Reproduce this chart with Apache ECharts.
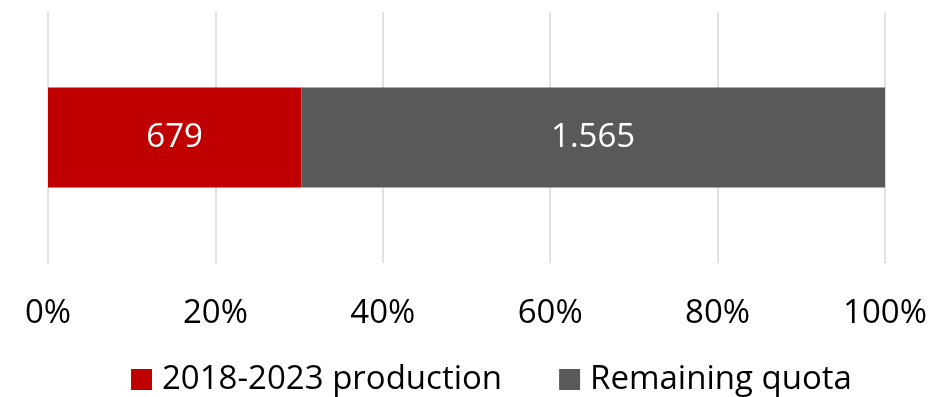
<!DOCTYPE html>
<html><head><meta charset="utf-8">
<script src="https://cdn.jsdelivr.net/npm/echarts@6/dist/echarts.min.js"></script>
<style>html,body{margin:0;padding:0;background:#fff}#c{width:930px;height:397px}</style>
</head><body><div id="c"></div>
<script>
const categories = [''];
const seriesNames = ['2018-2023 production', 'Remaining quota'];
const production = [679];
const remaining = [1565];
const tickLabels = ['0%', '20%', '40%', '60%', '80%', '100%'];

const totals = production.map((v, i) => v + remaining[i]);
const share = arr => arr.map((v, i) => ({ value: v / totals[i] * 100, raw: v }));
const fmt = n => String(n).replace(/\B(?=(\d{3})+(?!\d))/g, '.');
const FONT = 'Open Sans';

const chart = echarts.init(document.getElementById('c'));
chart.setOption({
  animation: false,
  textStyle: { fontFamily: FONT },
  grid: { left: 48, right: 45, top: 12, bottom: 134, containLabel: false },
  xAxis: {
    type: 'value', min: 0, max: 100, interval: 20,
    axisLine: { show: false }, axisTick: { show: false },
    splitLine: { lineStyle: { color: '#d9d9d9', width: 1.5 } },
    axisLabel: {
      margin: 34, color: '#000', fontSize: 33, fontFamily: FONT,
      formatter: v => tickLabels[Math.round(v / 20)]
    }
  },
  yAxis: {
    type: 'category', data: categories,
    axisLine: { show: false }, axisTick: { show: false }, axisLabel: { show: false }
  },
  legend: {
    bottom: -4, left: 126, itemWidth: 21, itemHeight: 21, itemGap: 57,
    icon: 'rect',
    textStyle: { fontSize: 33, color: '#000', fontFamily: FONT, padding: [0, 0, 0, 5] },
    data: seriesNames
  },
  series: [
    {
      name: seriesNames[0], type: 'bar', stack: 't', barWidth: 100,
      itemStyle: { color: '#c00000' },
      label: { show: true, position: 'inside', color: '#fff', fontSize: 33, fontFamily: FONT,
        formatter: p => fmt(p.data.raw) },
      data: share(production)
    },
    {
      name: seriesNames[1], type: 'bar', stack: 't', barWidth: 100,
      itemStyle: { color: '#595959' },
      label: { show: true, position: 'inside', color: '#fff', fontSize: 33, fontFamily: FONT,
        formatter: p => fmt(p.data.raw) },
      data: share(remaining)
    }
  ]
});
</script></body></html>
